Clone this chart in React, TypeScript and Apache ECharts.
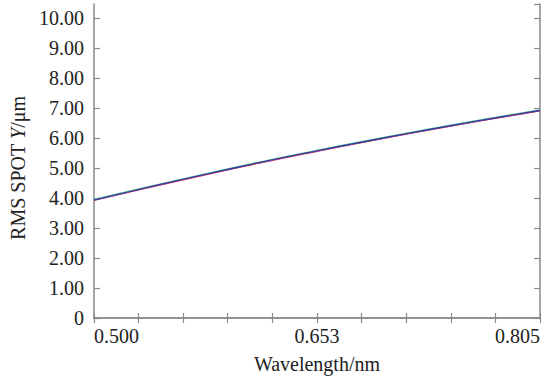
import React, { useEffect, useRef } from "react";
import * as echarts from "echarts";

const wavelengths = [0.5, 0.5305, 0.561, 0.5915, 0.622, 0.6525, 0.683, 0.7135, 0.744, 0.7745, 0.805];
const fieldGreen = [3.96, 4.31, 4.65, 4.98, 5.3, 5.6, 5.89, 6.17, 6.44, 6.7, 6.95];
const fieldCyan = [3.95, 4.3, 4.64, 4.97, 5.29, 5.59, 5.88, 6.16, 6.43, 6.69, 6.94];
const fieldBlue = [3.94, 4.29, 4.63, 4.96, 5.28, 5.58, 5.87, 6.15, 6.42, 6.68, 6.93];
const fieldPurple = [3.93, 4.28, 4.62, 4.95, 5.27, 5.57, 5.86, 6.14, 6.41, 6.67, 6.92];
const fieldRed = [3.92, 4.27, 4.61, 4.94, 5.26, 5.56, 5.85, 6.13, 6.4, 6.66, 6.91];

const xTickValues = [0.5, 0.5305, 0.561, 0.5915, 0.622, 0.6525, 0.683, 0.7135, 0.744, 0.7745, 0.805];
const xLabelValues = [0.5, 0.6525, 0.805];
const xLabelTexts = ["0.500", "0.653", "0.805"];
const yMin = 0;
const yMax = 10.48;
const yInterval = 1;

// drawn in this order (last on top)
const seriesList = [
  { name: "green", data: fieldGreen, color: "#8ccf6a" },
  { name: "red", data: fieldRed, color: "#e0383a" },
  { name: "cyan", data: fieldCyan, color: "#3bbfc4" },
  { name: "purple", data: fieldPurple, color: "#a83ea8" },
  { name: "blue", data: fieldBlue, color: "#2b3d9e" },
];

const FONT = "Liberation Serif";
const AXIS_COLOR = "#8a8a8a";
const TEXT_COLOR = "#222";

export default function App() {
  const ref = useRef<HTMLDivElement>(null);
  useEffect(() => {
    if (!ref.current) return;
    const chart = echarts.init(ref.current, undefined, { renderer: "svg" });
    const xLabelFmt = (v: number) => {
      const i = xLabelValues.findIndex((x) => Math.abs(x - v) < 1e-6);
      return i >= 0 ? xLabelTexts[i] : "";
    };
    const xCommon = {
      type: "value" as const,
      min: 0.5,
      max: 0.805,
      axisLine: { show: true, lineStyle: { color: AXIS_COLOR, width: 1.5 } },
      axisTick: {
        show: true,
        inside: true,
        length: 5,
        customValues: xTickValues,
        lineStyle: { color: AXIS_COLOR, width: 1.2 },
      },
      splitLine: { show: false },
    };
    const yCommon = {
      type: "value" as const,
      min: yMin,
      max: yMax,
      interval: yInterval,
      axisLine: { show: true, lineStyle: { color: AXIS_COLOR, width: 1.5 } },
      axisTick: { show: true, inside: true, length: 6, lineStyle: { color: AXIS_COLOR, width: 1.2 } },
      splitLine: { show: false },
    };
    chart.setOption({
      animation: false,
      backgroundColor: "#ffffff",
      grid: { left: 93, right: 10, top: 4, bottom: 61, containLabel: false },
      xAxis: [
        {
          ...xCommon,
          position: "bottom",
          name: "Wavelength/nm",
          nameLocation: "middle",
          nameGap: 36,
          nameTextStyle: { fontFamily: FONT, fontSize: 20, color: TEXT_COLOR },
          axisLabel: {
            show: true,
            customValues: xLabelValues,
            formatter: xLabelFmt,
            fontFamily: FONT,
            fontSize: 20,
            color: TEXT_COLOR,
            margin: 8,
            alignMinLabel: "left",
            alignMaxLabel: "right",
          },
        },
        {
          ...xCommon,
          position: "top",
          axisLabel: { show: false },
        },
      ],
      yAxis: [
        {
          ...yCommon,
          position: "left",
          name: "RMS SPOT {i|Y}/μm",
          nameLocation: "middle",
          nameGap: 58,
          nameRotate: 90,
          nameTextStyle: {
            fontFamily: FONT,
            fontSize: 20,
            color: TEXT_COLOR,
            padding: [0, 14, 0, 0],
            rich: { i: { fontFamily: FONT, fontSize: 20, fontStyle: "italic", color: TEXT_COLOR } },
          },
          axisLabel: {
            show: true,
            fontFamily: FONT,
            fontSize: 20,
            color: TEXT_COLOR,
            margin: 10,
            showMaxLabel: false,
            formatter: (v: number) => (v === 0 ? "0" : v.toFixed(2)),
          },
        },
        {
          ...yCommon,
          position: "right",
          axisLabel: { show: false },
        },
      ],
      series: seriesList.map((s) => ({
        type: "line",
        name: s.name,
        xAxisIndex: 0,
        yAxisIndex: 0,
        showSymbol: false,
        smooth: true,
        data: wavelengths.map((w, i) => [w, s.data[i]]),
        lineStyle: { color: s.color, width: 1.1 },
        itemStyle: { color: s.color },
      })),
    });
    return () => chart.dispose();
  }, []);
  return (
    <div
      ref={ref}
      style={{ position: "absolute", left: 0, top: 0, width: 550, height: 379 }}
    />
  );
}
